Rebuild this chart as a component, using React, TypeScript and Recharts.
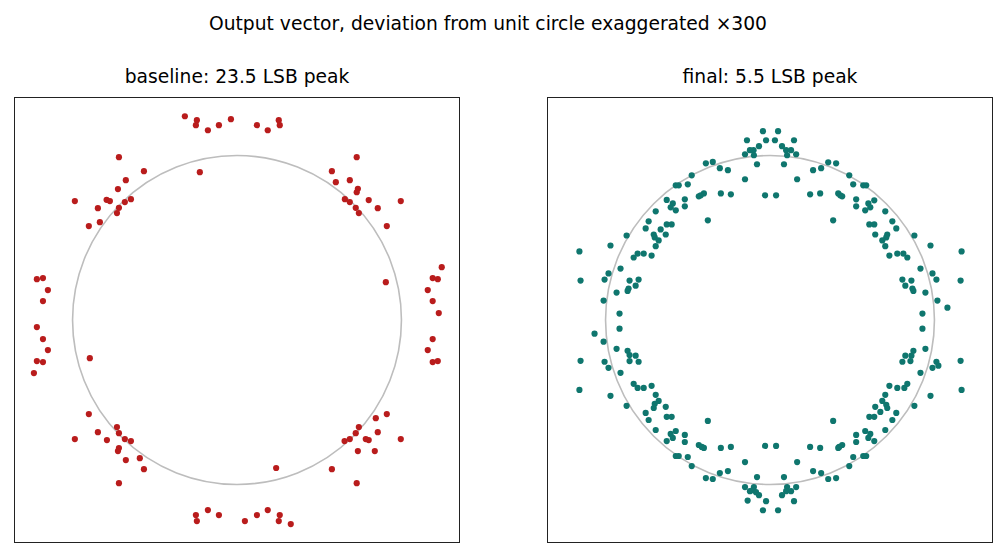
import React from 'react'
import { ScatterChart, Scatter, XAxis, YAxis, ReferenceDot } from 'recharts'

// unit circle radius = 1, deviation exaggerated x300
const TITLE = 'Output vector, deviation from unit circle exaggerated ×300'
const baselineTitle = 'baseline: 23.5 LSB peak'
const finalTitle = 'final: 5.5 LSB peak'

const baselinePoints = [
  // top
  { x: -0.317, y: 1.239 }, { x: -0.244, y: 1.215 }, { x: -0.25, y: 1.185 }, { x: -0.177, y: 1.154 },
  { x: -0.11, y: 1.185 }, { x: -0.037, y: 1.221 }, { x: 0.121, y: 1.185 }, { x: 0.187, y: 1.154 },
  { x: 0.254, y: 1.215 }, { x: 0.26, y: 1.185 }, { x: -0.226, y: 0.899 },
  // upper left
  { x: -0.718, y: 0.99 }, { x: -0.566, y: 0.905 }, { x: -0.676, y: 0.85 }, { x: -0.724, y: 0.796 },
  { x: -0.986, y: 0.723 }, { x: -0.793, y: 0.731 }, { x: -0.773, y: 0.723 }, { x: -0.645, y: 0.735 },
  { x: -0.682, y: 0.717 }, { x: -0.846, y: 0.68 }, { x: -0.718, y: 0.682 }, { x: -0.73, y: 0.65 },
  { x: -0.834, y: 0.595 }, { x: -0.901, y: 0.571 },
  // upper right
  { x: 0.728, y: 0.99 }, { x: 0.577, y: 0.905 }, { x: 0.601, y: 0.838 }, { x: 0.686, y: 0.85 },
  { x: 0.735, y: 0.798 }, { x: 0.728, y: 0.777 }, { x: 0.656, y: 0.735 }, { x: 0.686, y: 0.717 },
  { x: 0.801, y: 0.729 }, { x: 0.996, y: 0.723 }, { x: 0.856, y: 0.68 }, { x: 0.722, y: 0.682 },
  { x: 0.741, y: 0.65 }, { x: 0.911, y: 0.571 }, { x: 0.905, y: 0.23 },
  // left
  { x: -1.217, y: 0.248 }, { x: -1.18, y: 0.255 }, { x: -1.15, y: 0.182 }, { x: -1.18, y: 0.115 },
  { x: -1.217, y: -0.043 }, { x: -1.18, y: -0.116 }, { x: -1.15, y: -0.183 }, { x: -1.217, y: -0.25 },
  { x: -1.18, y: -0.256 }, { x: -1.235, y: -0.323 }, { x: -0.895, y: -0.232 },
  // right
  { x: 1.245, y: 0.321 }, { x: 1.19, y: 0.255 }, { x: 1.221, y: 0.248 }, { x: 1.16, y: 0.182 },
  { x: 1.19, y: 0.115 }, { x: 1.227, y: 0.042 }, { x: 1.19, y: -0.116 }, { x: 1.16, y: -0.183 },
  { x: 1.19, y: -0.256 }, { x: 1.221, y: -0.25 },
  // lower left
  { x: -0.901, y: -0.572 }, { x: -0.73, y: -0.651 }, { x: -0.718, y: -0.688 }, { x: -0.846, y: -0.682 },
  { x: -0.986, y: -0.724 }, { x: -0.791, y: -0.73 }, { x: -0.682, y: -0.724 }, { x: -0.645, y: -0.736 },
  { x: -0.718, y: -0.779 }, { x: -0.724, y: -0.797 }, { x: -0.591, y: -0.84 }, { x: -0.676, y: -0.852 },
  { x: -0.566, y: -0.907 }, { x: -0.718, y: -0.992 }, { x: 0.238, y: -0.9 },
  // lower right
  { x: 0.911, y: -0.572 }, { x: 0.844, y: -0.597 }, { x: 0.741, y: -0.651 }, { x: 0.722, y: -0.688 },
  { x: 0.856, y: -0.682 }, { x: 0.996, y: -0.724 }, { x: 0.654, y: -0.736 }, { x: 0.686, y: -0.724 },
  { x: 0.783, y: -0.724 }, { x: 0.801, y: -0.73 }, { x: 0.735, y: -0.797 }, { x: 0.838, y: -0.797 },
  { x: 0.577, y: -0.907 }, { x: 0.728, y: -0.992 },
  // bottom
  { x: -0.25, y: -1.186 }, { x: -0.244, y: -1.223 }, { x: -0.177, y: -1.156 }, { x: -0.11, y: -1.186 },
  { x: 0.048, y: -1.223 }, { x: 0.121, y: -1.186 }, { x: 0.187, y: -1.156 }, { x: 0.26, y: -1.186 },
  { x: 0.254, y: -1.223 }, { x: 0.327, y: -1.241 },
]

const finalPoints = [
  // upper left quadrant
  { x: -0.043, y: 1.148 }, { x: -0.14, y: 1.093 }, { x: -0.024, y: 1.093 }, { x: -0.067, y: 1.057 },
  { x: -0.122, y: 1.033 }, { x: -0.1, y: 1.033 }, { x: -0.152, y: 1.008 }, { x: -0.098, y: 1.002 },
  { x: -0.079, y: 0.947 }, { x: -0.39, y: 0.953 }, { x: -0.348, y: 0.961 }, { x: -0.305, y: 0.923 },
  { x: -0.256, y: 0.911 }, { x: -0.476, y: 0.88 }, { x: -0.152, y: 0.856 }, { x: -0.5, y: 0.825 },
  { x: -0.573, y: 0.819 }, { x: -0.555, y: 0.819 }, { x: -0.299, y: 0.77 }, { x: -0.238, y: 0.764 },
  { x: -0.03, y: 0.758 }, { x: -0.402, y: 0.77 }, { x: -0.421, y: 0.758 }, { x: -0.433, y: 0.752 },
  { x: -0.518, y: 0.734 }, { x: -0.628, y: 0.73 }, { x: -0.591, y: 0.709 }, { x: -0.604, y: 0.685 },
  { x: -0.573, y: 0.667 }, { x: -0.518, y: 0.691 }, { x: -0.695, y: 0.661 }, { x: -0.378, y: 0.606 },
  { x: -0.738, y: 0.6 }, { x: -0.628, y: 0.581 }, { x: -0.598, y: 0.581 }, { x: -0.756, y: 0.557 },
  { x: -0.665, y: 0.551 }, { x: -0.872, y: 0.514 }, { x: -0.707, y: 0.52 }, { x: -0.634, y: 0.52 },
  { x: -0.701, y: 0.502 }, { x: -0.677, y: 0.484 }, { x: -0.695, y: 0.449 }, { x: -0.97, y: 0.453 },
  { x: -1.159, y: 0.417 }, { x: -0.805, y: 0.404 }, { x: -0.768, y: 0.404 }, { x: -0.72, y: 0.392 },
  { x: -0.829, y: 0.38 }, { x: -0.909, y: 0.313 }, { x: -0.982, y: 0.283 }, { x: -1.152, y: 0.24 },
  { x: -1.006, y: 0.246 }, { x: -0.854, y: 0.24 }, { x: -0.799, y: 0.246 }, { x: -0.817, y: 0.209 },
  { x: -0.86, y: 0.191 }, { x: -0.866, y: 0.177 }, { x: -0.933, y: 0.167 }, { x: -1.012, y: 0.118 },
  { x: -0.915, y: 0.039 },
  // upper right quadrant
  { x: 0.049, y: 1.148 }, { x: 0.03, y: 1.093 }, { x: 0.146, y: 1.093 }, { x: 0.073, y: 1.057 },
  { x: 0.098, y: 1.033 }, { x: 0.128, y: 1.033 }, { x: 0.104, y: 1.002 }, { x: 0.159, y: 1.008 },
  { x: 0.085, y: 0.947 }, { x: 0.354, y: 0.959 }, { x: 0.402, y: 0.953 }, { x: 0.262, y: 0.911 },
  { x: 0.311, y: 0.923 }, { x: 0.165, y: 0.856 }, { x: 0.482, y: 0.88 }, { x: 0.506, y: 0.825 },
  { x: 0.567, y: 0.819 }, { x: 0.585, y: 0.819 }, { x: 0.037, y: 0.758 }, { x: 0.244, y: 0.764 },
  { x: 0.305, y: 0.77 }, { x: 0.415, y: 0.77 }, { x: 0.427, y: 0.758 }, { x: 0.439, y: 0.752 },
  { x: 0.524, y: 0.734 }, { x: 0.634, y: 0.728 }, { x: 0.598, y: 0.709 }, { x: 0.61, y: 0.685 },
  { x: 0.524, y: 0.691 }, { x: 0.579, y: 0.667 }, { x: 0.701, y: 0.661 }, { x: 0.384, y: 0.606 },
  { x: 0.744, y: 0.6 }, { x: 0.604, y: 0.581 }, { x: 0.634, y: 0.581 }, { x: 0.768, y: 0.557 },
  { x: 0.64, y: 0.52 }, { x: 0.713, y: 0.52 }, { x: 0.707, y: 0.502 }, { x: 0.683, y: 0.484 },
  { x: 0.878, y: 0.514 }, { x: 0.701, y: 0.449 }, { x: 0.976, y: 0.453 }, { x: 1.165, y: 0.417 },
  { x: 0.774, y: 0.404 }, { x: 0.811, y: 0.404 }, { x: 0.726, y: 0.392 }, { x: 0.835, y: 0.38 },
  { x: 0.915, y: 0.313 }, { x: 0.988, y: 0.283 }, { x: 1.159, y: 0.24 }, { x: 1.012, y: 0.246 },
  { x: 0.805, y: 0.246 }, { x: 0.86, y: 0.24 }, { x: 0.823, y: 0.209 }, { x: 0.866, y: 0.191 },
  { x: 0.872, y: 0.177 }, { x: 0.945, y: 0.167 }, { x: 1.018, y: 0.118 }, { x: 1.079, y: 0.075 },
  { x: 0.927, y: 0.039 },
  // lower left quadrant
  { x: -0.915, y: -0.053 }, { x: -1.067, y: -0.083 }, { x: -1.012, y: -0.132 }, { x: -0.933, y: -0.175 },
  { x: -0.866, y: -0.187 }, { x: -0.854, y: -0.213 }, { x: -0.817, y: -0.217 }, { x: -0.854, y: -0.25 },
  { x: -0.799, y: -0.254 }, { x: -1.152, y: -0.248 }, { x: -1.006, y: -0.254 }, { x: -0.982, y: -0.291 },
  { x: -0.909, y: -0.321 }, { x: -1.159, y: -0.425 }, { x: -0.97, y: -0.461 }, { x: -0.829, y: -0.388 },
  { x: -0.805, y: -0.413 }, { x: -0.768, y: -0.413 }, { x: -0.72, y: -0.4 }, { x: -0.695, y: -0.455 },
  { x: -0.677, y: -0.492 }, { x: -0.701, y: -0.51 }, { x: -0.707, y: -0.535 }, { x: -0.634, y: -0.528 },
  { x: -0.872, y: -0.522 }, { x: -0.756, y: -0.565 }, { x: -0.738, y: -0.608 }, { x: -0.628, y: -0.589 },
  { x: -0.598, y: -0.589 }, { x: -0.378, y: -0.614 }, { x: -0.695, y: -0.669 }, { x: -0.573, y: -0.675 },
  { x: -0.604, y: -0.693 }, { x: -0.591, y: -0.717 }, { x: -0.518, y: -0.699 }, { x: -0.628, y: -0.736 },
  { x: -0.518, y: -0.742 }, { x: -0.433, y: -0.76 }, { x: -0.415, y: -0.772 }, { x: -0.402, y: -0.778 },
  { x: -0.299, y: -0.778 }, { x: -0.238, y: -0.772 }, { x: -0.03, y: -0.766 }, { x: -0.573, y: -0.827 },
  { x: -0.555, y: -0.827 }, { x: -0.5, y: -0.833 }, { x: -0.476, y: -0.888 }, { x: -0.152, y: -0.864 },
  { x: -0.39, y: -0.961 }, { x: -0.348, y: -0.967 }, { x: -0.305, y: -0.931 }, { x: -0.256, y: -0.919 },
  { x: -0.079, y: -0.955 }, { x: -0.152, y: -1.016 }, { x: -0.098, y: -1.016 }, { x: -0.122, y: -1.041 },
  { x: -0.104, y: -1.035 }, { x: -0.085, y: -1.047 }, { x: -0.067, y: -1.065 }, { x: -0.136, y: -1.098 },
  { x: -0.024, y: -1.102 }, { x: -0.043, y: -1.157 },
  // lower right quadrant
  { x: 0.927, y: -0.053 }, { x: 0.945, y: -0.175 }, { x: 0.872, y: -0.187 }, { x: 0.823, y: -0.217 },
  { x: 0.86, y: -0.217 }, { x: 0.854, y: -0.25 }, { x: 0.805, y: -0.254 }, { x: 1.159, y: -0.248 },
  { x: 1.012, y: -0.254 }, { x: 1.024, y: -0.278 }, { x: 0.988, y: -0.291 }, { x: 0.915, y: -0.321 },
  { x: 1.165, y: -0.425 }, { x: 0.976, y: -0.461 }, { x: 0.835, y: -0.388 }, { x: 0.817, y: -0.413 },
  { x: 0.774, y: -0.413 }, { x: 0.726, y: -0.4 }, { x: 0.701, y: -0.455 }, { x: 0.683, y: -0.492 },
  { x: 0.707, y: -0.516 }, { x: 0.713, y: -0.535 }, { x: 0.64, y: -0.528 }, { x: 0.878, y: -0.522 },
  { x: 0.671, y: -0.559 }, { x: 0.768, y: -0.565 }, { x: 0.744, y: -0.608 }, { x: 0.604, y: -0.589 },
  { x: 0.634, y: -0.589 }, { x: 0.384, y: -0.614 }, { x: 0.701, y: -0.669 }, { x: 0.579, y: -0.675 },
  { x: 0.61, y: -0.693 }, { x: 0.598, y: -0.717 }, { x: 0.524, y: -0.699 }, { x: 0.634, y: -0.736 },
  { x: 0.524, y: -0.742 }, { x: 0.439, y: -0.76 }, { x: 0.421, y: -0.772 }, { x: 0.415, y: -0.778 },
  { x: 0.305, y: -0.778 }, { x: 0.244, y: -0.772 }, { x: 0.037, y: -0.766 }, { x: 0.567, y: -0.827 },
  { x: 0.585, y: -0.827 }, { x: 0.506, y: -0.833 }, { x: 0.482, y: -0.888 }, { x: 0.165, y: -0.864 },
  { x: 0.402, y: -0.961 }, { x: 0.354, y: -0.967 }, { x: 0.311, y: -0.931 }, { x: 0.262, y: -0.919 },
  { x: 0.085, y: -0.955 }, { x: 0.104, y: -1.016 }, { x: 0.159, y: -1.016 }, { x: 0.098, y: -1.041 },
  { x: 0.128, y: -1.041 }, { x: 0.073, y: -1.065 }, { x: 0.146, y: -1.102 }, { x: 0.049, y: -1.157 },
]

const LIM = 1.35
const PANEL = 444
const R_PX = PANEL / 2 / LIM
const FONT = '"DejaVu Sans", sans-serif'

function Panel({ left, title, data, color }: { left: number; title: string; data: { x: number; y: number }[]; color: string }) {
  return (
    <>
      <div style={{ position: 'absolute', left, top: 66, width: PANEL, textAlign: 'center', fontSize: 18.7, color: '#000' }}>
        {title}
      </div>
      <div style={{ position: 'absolute', left: left - 1, top: 97, width: PANEL, height: PANEL, border: '1.4px solid #222' }}>
        <ScatterChart width={PANEL} height={PANEL} margin={{ top: 0, right: 0, bottom: 0, left: 0 }}>
          <XAxis type="number" dataKey="x" domain={[-LIM, LIM]} hide allowDataOverflow />
          <YAxis type="number" dataKey="y" domain={[-LIM, LIM]} hide allowDataOverflow width={0} />
          <ReferenceDot x={0} y={0} r={R_PX} fill="none" stroke="#bdbdbd" strokeWidth={1.6} />
          <Scatter
            data={data}
            isAnimationActive={false}
            shape={(p: any) => <circle cx={p.cx} cy={p.cy} r={3.1} fill={color} />}
          />
        </ScatterChart>
      </div>
    </>
  )
}

export default function App() {
  return (
    <div style={{ position: 'absolute', left: 0, top: 0, width: 1006, height: 557, background: '#fff', fontFamily: FONT }}>
      <div style={{ position: 'absolute', left: 0, top: 13, width: 976, textAlign: 'center', fontSize: 18.7, color: '#000' }}>
        {TITLE}
      </div>
      <Panel left={15} title={baselineTitle} data={baselinePoints} color="#b91c1c" />
      <Panel left={548} title={finalTitle} data={finalPoints} color="#0f766e" />
    </div>
  )
}
